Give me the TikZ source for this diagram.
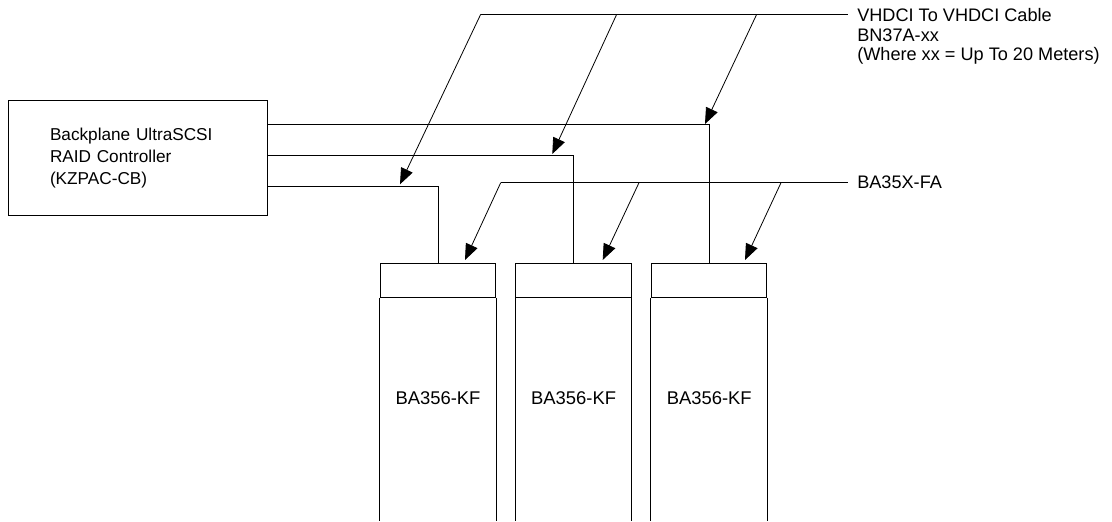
\documentclass[tikz,border=0pt]{standalone}
\usepackage{fontspec}
\setmainfont{Liberation Sans}
\usetikzlibrary{arrows.meta}

\tikzset{
  scsi cable/.style={line width=0.75pt},
  scsi pointer/.style={line width=0.6pt,-{Triangle[length=12pt,width=9.5pt]}},
  raid box/.style={draw,line width=0.75pt,align=left,text width=131.25pt,
    inner xsep=31.5pt,minimum height=86.25pt,font=\fontsize{12.9}{16.5}\selectfont},
  shelf head/.style={draw,line width=0.75pt,minimum width=86.6pt,
    minimum height=25.5pt,inner sep=0pt},
  shelf label/.style={font=\fontsize{13.8}{16.5}\selectfont},
  part label/.style={align=left,inner xsep=6.75pt,inner ysep=0pt,
    font=\fontsize{13.6}{14.6}\selectfont}
}

\begin{document}
\begin{tikzpicture}[x=0.75pt,y=-0.75pt]
      \useasboundingbox (0,0) rectangle (1112,521);
      % controller
      \node[raid box] (ctrl) at (137.5,158.2)
        {Backplane UltraSCSI\\RAID Controller\\(KZPAC-CB)};
      % shelves
      \foreach \i/\x in {1/438,2/573.6,3/709.2} {
        \node[shelf head] (cab\i) at (\x,280.3) {};
        \draw[scsi cable] (cab\i.south west) -- (cab\i.south west |- 0,521);
        \draw[scsi cable] (cab\i.south east) -- (cab\i.south east |- 0,521);
        \node[shelf label] (lbl\i) at (\x,398.3) {BA356-KF};
      }
      % cables from the controller
      \draw[scsi cable] (ctrl.east |- 0,124) -| (cab3.north);
      \draw[scsi cable] (ctrl.east |- 0,155.7) -| (cab2.north);
      \draw[scsi cable] (ctrl.east |- 0,186.7) -| (cab1.north);
      % part labels
      \node[part label,anchor=north west] (vhdci) at (848,8.5)
        {VHDCI To VHDCI Cable\\BN37A-xx\\(Where xx = Up To 20 Meters)};
      \node[part label,anchor=west] (fa) at (848,182.7) {BA35X-FA};
      \coordinate (vcorner) at (480.7,14.3);
      \coordinate (facorner) at (500.7,182.7);
      \draw[scsi cable] (vcorner) -- (vcorner -| vhdci.west);
      \draw[scsi cable] (facorner) -- (fa.west);
      % pointers
      \foreach \i/\sx/\tx/\ty in {1/480.7/400/184.3,2/616.7/552.3/154,3/756.7/705/124} {
        \coordinate (vs\i) at (\sx,14.3);
        \coordinate (vt\i) at (\tx,\ty);
        \draw[scsi pointer] (vs\i) -- (vt\i);
      }
      \foreach \i/\sx/\tx in {1/500.7/465,2/639/602.7,3/781/745} {
        \coordinate (fs\i) at (\sx,182.7);
        \coordinate (ft\i) at (\tx,260);
        \draw[scsi pointer] (fs\i) -- (ft\i);
      }
    \end{tikzpicture}
\end{document}
